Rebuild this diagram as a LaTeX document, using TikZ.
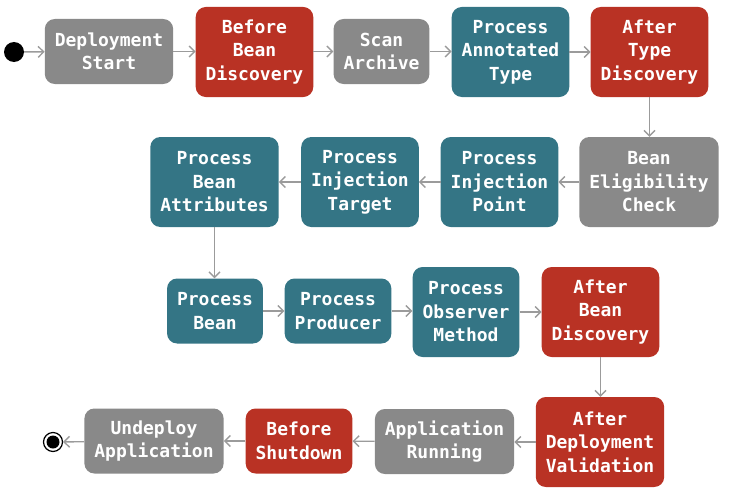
\documentclass[tikz,border=0pt]{standalone}
\usepackage{fontspec}
\newfontfamily\boxfont{DejaVu Sans Mono}[BoldFont={DejaVu Sans Mono Bold}]
\usetikzlibrary{arrows.meta}
\definecolor{stgray}{RGB}{137,137,137}
\definecolor{stred}{RGB}{185,50,36}
\definecolor{stteal}{RGB}{52,117,133}
\definecolor{flowgray}{RGB}{155,155,155}
\begin{document}
\begin{tikzpicture}[x=1pt,y=-1pt,
  evbox/.style={rounded corners=10pt, inner xsep=10pt, inner ysep=0pt,
    text=white, align=center,
    font=\boxfont\bfseries\fontsize{18}{23.5}\selectfont},
  twoline/.style={evbox, minimum height=65pt},
  threeline/.style={evbox, minimum height=90pt},
  grayev/.style={fill=stgray},
  redev/.style={fill=stred},
  tealev/.style={fill=stteal},
  flow/.style={draw=flowgray, line width=1.4pt,
    -{Straight Barb[length=5.5pt,width=11pt]}}]
\useasboundingbox (0,0) rectangle (735,495);

% initial and final states
\node (init) [circle, fill=black, minimum size=20pt, inner sep=0pt] at (14,52) {};
\node (fin) [circle, draw=black, line width=1.2pt, fill=white, minimum size=19pt, inner sep=0pt] at (53,442) {};
\fill[black] (fin.center) circle (6.5pt);

% row 1
\node (ds)  [twoline, grayev]    at (109,51.5)  {Deployment\\Start};
\node (bbd) [threeline, redev]   at (254.5,52)  {Before\\Bean\\Discovery};
\node (sa)  [twoline, grayev]    at (381.5,51.5){Scan\\Archive};
\node (pat) [threeline, tealev]  at (510.5,52)  {Process\\Annotated\\Type};
\node (atd) [threeline, redev]   at (649.5,52)  {After\\Type\\Discovery};

% row 2
\node (bec) [threeline, grayev]  at (649,182)   {Bean\\Eligibility\\Check};
\node (pip) [threeline, tealev]  at (499.5,182) {Process\\Injection\\Point};
\node (pit) [threeline, tealev]  at (360,182)   {Process\\Injection\\Target};
\node (pba) [threeline, tealev]  at (214.5,182) {Process\\Bean\\Attributes};

% row 3
\node (pb)  [twoline, tealev]    at (215,311)   {Process\\Bean};
\node (pp)  [twoline, tealev]    at (338,311)   {Process\\Producer};
\node (pom) [threeline, tealev]  at (466,312)   {Process\\Observer\\Method};
\node (abd) [threeline, redev]   at (600.5,312) {After\\Bean\\Discovery};

% row 4
\node (adv) [threeline, redev]   at (600,442)   {After\\Deployment\\Validation};
\node (ar)  [twoline, grayev]    at (444.5,441.5){Application\\Running};
\node (bs)  [twoline, redev]     at (299,441)   {Before\\Shutdown};
\node (ua)  [twoline, grayev]    at (154,441)   {Undeploy\\Application};

% transitions
\draw[flow] (init) -- (ds);
\draw[flow] (ds) -- (ds -| bbd.west);
\draw[flow] (bbd.east |- sa) -- (sa);
\draw[flow] (sa) -- (sa -| pat.west);
\draw[flow] (pat) -- (atd);
\draw[flow] (atd.south) -- (atd.south |- bec.north);
\draw[flow] (bec) -- (pip);
\draw[flow] (pip) -- (pit);
\draw[flow] (pit) -- (pba);
\draw[flow] (pba.south) -- (pba.south |- pb.north);
\draw[flow] (pb) -- (pp);
\draw[flow] (pp) -- (pp -| pom.west);
\draw[flow] (pom) -- (abd);
\draw[flow] (abd.south) -- (abd.south |- adv.north);
\draw[flow] (adv) -- (adv -| ar.east);
\draw[flow] (ar) -- (bs);
\draw[flow] (bs) -- (ua);
\draw[flow] (ua) -- (fin);
\end{tikzpicture}
\end{document}
